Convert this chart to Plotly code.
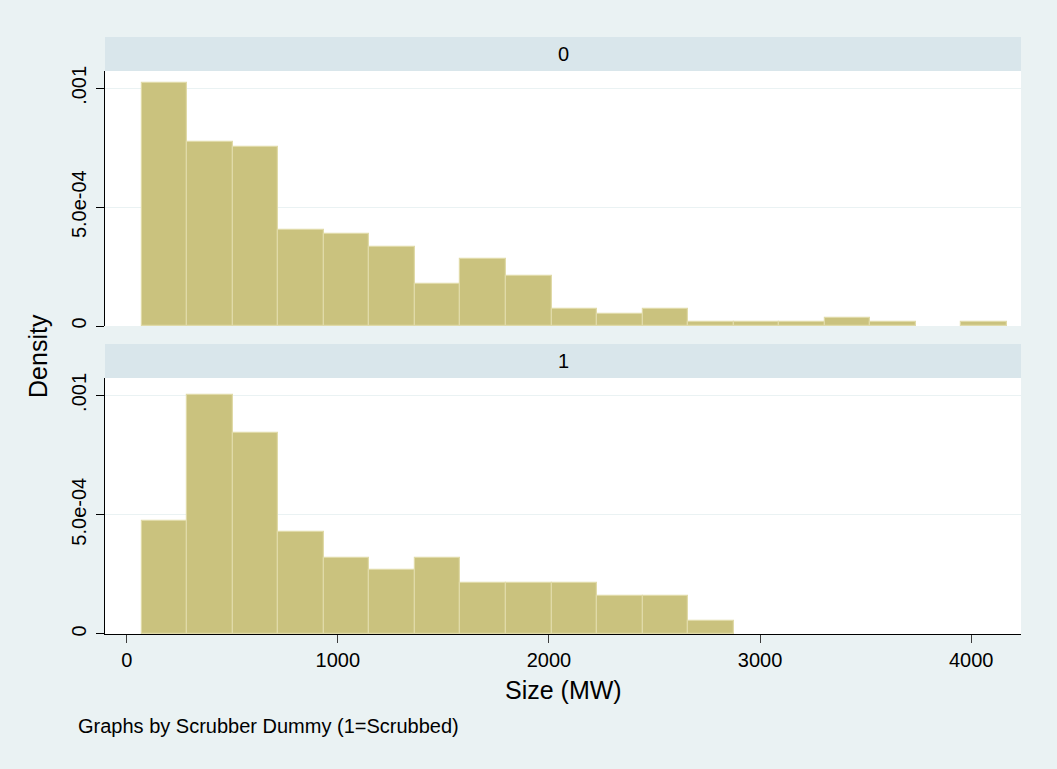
import plotly.graph_objects as go

# ---- data ----
bin_start = 71.0
bin_width = 215.7
density_0 = [0.001021, 0.000773, 0.000754, 0.000405, 0.000386, 0.000331, 0.000175,
             0.000281, 0.000210, 0.0000715, 0.0000518, 0.0000715, 0.0000170, 0.0000170,
             0.0000170, 0.0000350, 0.0000170, 0.0, 0.0000170]
density_1 = [0.000475, 0.001003, 0.000844, 0.000426, 0.000317, 0.000268, 0.000317,
             0.000212, 0.000212, 0.000212, 0.000158, 0.000158, 0.0000528, 0.0, 0.0,
             0.0, 0.0, 0.0, 0.0]
x_ticks = [0, 1000, 2000, 3000, 4000]
y_ticks = [0, 0.0005, 0.001]
y_tick_labels = ["0", "5.0e-04", ".001"]
panel_labels = ["0", "1"]
x_title = "Size (MW)"
y_title = "Density"
note = "Graphs by Scrubber Dummy (1=Scrubbed)"

FONT = "Liberation Sans, Arial, Helvetica, sans-serif"
BG = "rgb(234,242,243)"
STRIP = "rgb(217,230,235)"
FILL = "rgb(202,194,126)"
EDGE = "rgb(224,218,168)"


def bars(dens, xa, ya):
    xs = [bin_start + bin_width * (i + 0.5) for i, d in enumerate(dens) if d > 0]
    ys = [d for d in dens if d > 0]
    return go.Bar(x=xs, y=ys, width=bin_width, xaxis=xa, yaxis=ya,
                  marker=dict(color=FILL, line=dict(color=EDGE, width=1.2)),
                  showlegend=False, hoverinfo="x+y")


fig = go.Figure()
fig.add_trace(bars(density_0, "x2", "y2"))
fig.add_trace(bars(density_1, "x", "y"))

# layout geometry (pixel-derived fractions of the plotting area)
top_dom = [0.5159, 0.9430]
bot_dom = [0.0, 0.4288]
strip_top = [0.9430, 1.0]
strip_bot = [0.4288, 0.4858]
xr = [-103, 4236]
yr = [0, 0.001073]

yaxis_common = dict(range=yr, tickvals=y_ticks, ticktext=y_tick_labels, tickangle=-90,
                    ticks="outside", ticklen=8, tickcolor="black", tickwidth=1,
                    ticklabelstandoff=2,
                    showline=True, linecolor="black", linewidth=1.3,
                    showgrid=True, gridcolor=BG, gridwidth=1.2, zeroline=False,
                    tickfont=dict(family=FONT, size=20, color="black"), fixedrange=True)

fig.update_layout(
    width=1057, height=769,
    paper_bgcolor=BG, plot_bgcolor="white",
    margin=dict(l=105, r=36, t=37, b=135),
    bargap=0,
    font=dict(family=FONT, size=20, color="black"),
    xaxis=dict(domain=[0, 1], anchor="y", range=xr, tickvals=x_ticks,
               ticks="outside", ticklen=8, tickcolor="rgb(60,60,60)", tickwidth=1.3,
               showline=True, linecolor="black", linewidth=1.3, showgrid=False, zeroline=False,
               tickfont=dict(family=FONT, size=20, color="black"), fixedrange=True),
    xaxis2=dict(domain=[0, 1], anchor="y2", range=xr, matches="x", showticklabels=False,
                ticks="", showline=False, showgrid=False, zeroline=False, fixedrange=True),
    yaxis=dict(domain=bot_dom, anchor="x", **yaxis_common),
    yaxis2=dict(domain=top_dom, anchor="x2", **yaxis_common),
    shapes=[
        dict(type="rect", xref="paper", yref="paper", x0=0, x1=1, y0=strip_top[0], y1=strip_top[1],
             fillcolor=STRIP, line=dict(width=0), layer="below"),
        dict(type="rect", xref="paper", yref="paper", x0=0, x1=1, y0=strip_bot[0], y1=strip_bot[1],
             fillcolor=STRIP, line=dict(width=0), layer="below"),
    ],
    annotations=[
        dict(text=panel_labels[0], xref="paper", yref="paper", x=0.5, y=sum(strip_top) / 2,
             showarrow=False, xanchor="center", yanchor="middle", font=dict(size=20)),
        dict(text=panel_labels[1], xref="paper", yref="paper", x=0.5, y=sum(strip_bot) / 2,
             showarrow=False, xanchor="center", yanchor="middle", font=dict(size=20)),
        dict(text=y_title, xref="paper", yref="paper", x=-0.073, y=0.466, textangle=-90,
             showarrow=False, xanchor="center", yanchor="middle", font=dict(size=25)),
        dict(text=x_title, xref="paper", yref="paper", x=0.5, y=-0.0938,
             showarrow=False, xanchor="center", yanchor="middle", font=dict(size=25)),
        dict(text=note, xref="paper", yref="paper", x=-0.0317, y=-0.154,
             showarrow=False, xanchor="left", yanchor="middle", font=dict(size=20)),
    ],
)

fig.write_html("out.html",
               config={"displayModeBar": False},
               post_script="document.body.style.margin='0px';"
                           "document.body.style.background='rgb(234,242,243)';")
